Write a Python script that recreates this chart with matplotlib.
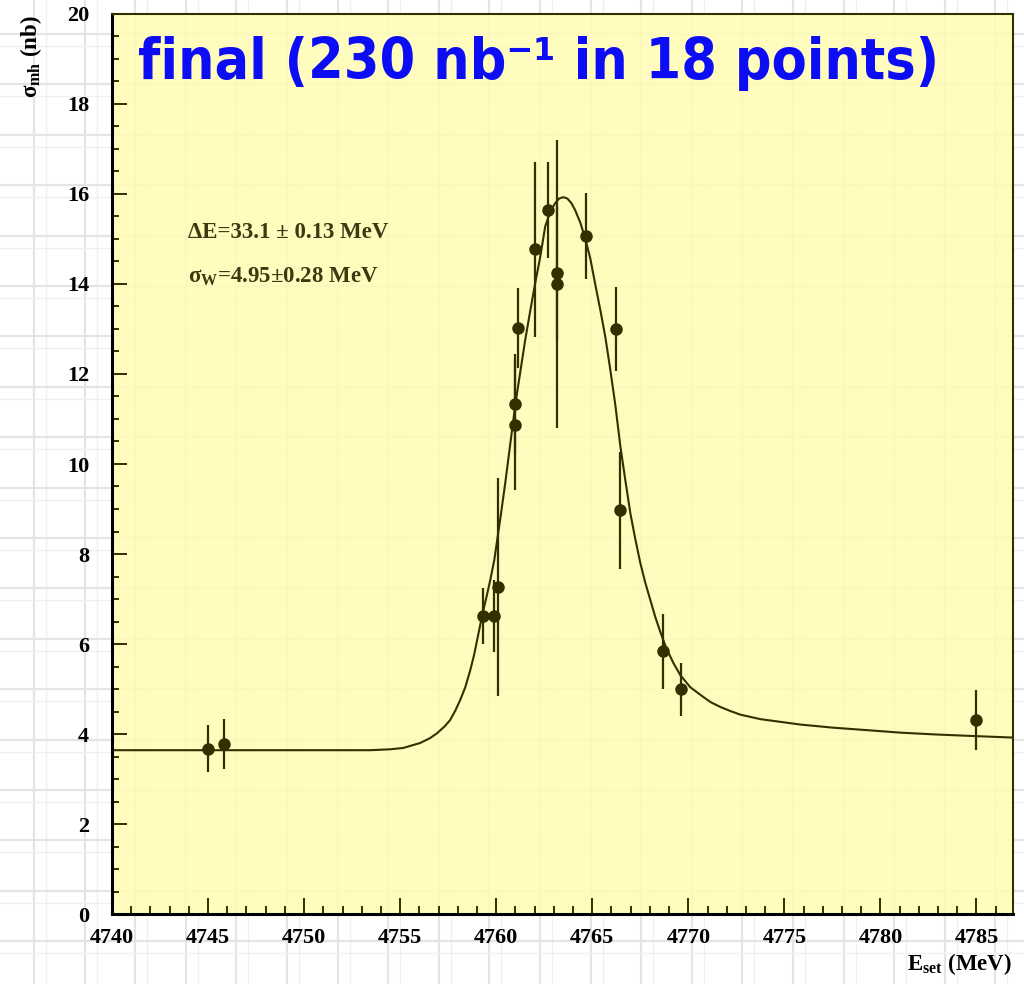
import matplotlib
matplotlib.use("Agg")
import matplotlib.pyplot as plt
from matplotlib.ticker import MultipleLocator
import numpy as np

plt.rcParams['font.family'] = ['Liberation Serif', 'DejaVu Serif']
plt.rcParams['font.weight'] = 'bold'
plt.rcParams['mathtext.fontset'] = 'custom'
plt.rcParams['mathtext.rm'] = 'Liberation Serif:bold'
plt.rcParams['mathtext.it'] = 'Liberation Serif:bold'
plt.rcParams['mathtext.bf'] = 'Liberation Serif:bold'

# measured points (MeV, nb)
energy = [4745.0, 4745.83, 4759.3, 4759.86, 4760.07, 4761.0, 4761.0, 4761.15,
          4762.03, 4762.67, 4763.16, 4763.16, 4764.67, 4766.25, 4766.46,
          4768.68, 4769.64, 4784.95]
sigma = [3.67, 3.78, 6.62, 6.63, 7.26, 11.33, 10.87, 13.02,
         14.77, 15.64, 14.24, 14.01, 15.07, 13.0, 8.97,
         5.84, 4.99, 4.31]
sigma_err = [0.52, 0.55, 0.62, 0.8, 2.42, 1.11, 1.45, 0.88,
             1.94, 1.07, 1.5, 3.2, 0.96, 0.93, 1.3,
             0.83, 0.58, 0.67]

# fitted curve
fit_energy = [4740.0, 4753.44, 4754.48, 4755.16, 4756.04, 4756.56, 4756.93,
              4757.34, 4757.60, 4757.86, 4758.13, 4758.39, 4758.65, 4758.85,
              4759.06, 4759.27, 4759.48, 4759.69, 4759.90, 4760.05, 4760.26,
              4760.47, 4760.73, 4760.99, 4761.25, 4761.51, 4761.77, 4762.03,
              4762.29, 4762.55, 4762.81, 4763.07, 4763.28, 4763.49, 4763.70,
              4763.91, 4764.11, 4764.38, 4764.64, 4764.90, 4765.16, 4765.42,
              4765.68, 4765.94, 4766.20, 4766.46, 4766.72, 4766.98, 4767.24,
              4767.50, 4767.76, 4768.02, 4768.28, 4768.54, 4768.85, 4769.22,
              4769.58, 4770.10, 4770.63, 4771.15, 4771.67, 4772.19, 4772.71,
              4773.75, 4774.79, 4775.83, 4777.55, 4779.48, 4781.04, 4782.86,
              4784.53, 4786.93]
fit_sigma = [3.64, 3.64, 3.66, 3.69, 3.80, 3.91, 4.02,
             4.18, 4.31, 4.51, 4.76, 5.04, 5.42, 5.76,
             6.20, 6.64, 7.02, 7.42, 7.87, 8.31, 8.93,
             9.58, 10.44, 11.31, 12.04, 12.76, 13.40, 14.02,
             14.60, 15.28, 15.60, 15.80, 15.90, 15.93, 15.90,
             15.80, 15.64, 15.36, 15.00, 14.56, 13.98, 13.42,
             12.82, 12.09, 11.31, 10.40, 9.64, 8.91, 8.33,
             7.80, 7.36, 6.98, 6.60, 6.27, 5.91, 5.58,
             5.31, 5.04, 4.87, 4.71, 4.60, 4.51, 4.43,
             4.33, 4.27, 4.21, 4.14, 4.08, 4.03, 3.99,
             3.96, 3.92]

ink = '#333000'
W, H = 1024, 984
fig = plt.figure(figsize=(W / 100, H / 100), dpi=100)

# slide background: faint graph paper
bg = fig.add_axes([0, 0, 1, 1], zorder=0)
bg.set_xlim(0, W)
bg.set_ylim(H, 0)
bg.axis('off')
for gx in np.arange(34, W, 50.6):
    bg.axvline(gx, color='#e4e4e4', lw=1.6)
    bg.axvline(gx + 12, color='#f0f0f0', lw=1.0)
for gy in np.arange(34, H, 50.4):
    bg.axhline(gy, color='#e4e4e4', lw=1.6)
    bg.axhline(gy + 12, color='#f0f0f0', lw=1.0)

ax = fig.add_axes([112 / W, 70 / H, 901 / W, 900 / H], zorder=1)
ax.set_facecolor((1.0, 0.99, 0.70, 0.85))

ax.plot(fit_energy, fit_sigma, color=ink, lw=1.5, zorder=2)
ax.errorbar(energy, sigma, yerr=sigma_err, fmt='o', color=ink, ms=8,
            elinewidth=1.6, capsize=0, zorder=3)

ax.set_xlim(4740, 4786.9)
ax.set_ylim(0, 20)
ax.xaxis.set_major_locator(MultipleLocator(5))
ax.xaxis.set_minor_locator(MultipleLocator(1))
ax.yaxis.set_major_locator(MultipleLocator(2))
ax.yaxis.set_minor_locator(MultipleLocator(0.5))
ax.tick_params(which='both', direction='in', top=False, right=False,
               width=1.4, color=ink, labelsize=16)
ax.tick_params(axis='x', which='major', length=11.5, pad=10)
ax.tick_params(axis='x', which='minor', length=5.5)
ax.tick_params(axis='y', which='major', length=11, pad=16.5)
ax.tick_params(axis='y', which='minor', length=5)
for s in ['left', 'bottom']:
    ax.spines[s].set_linewidth(2.2)
    ax.spines[s].set_color('black')
for s in ['top', 'right']:
    ax.spines[s].set_linewidth(1.5)
    ax.spines[s].set_color(ink)

ax.text(4741.35, 18.55, 'final (230 nb\u207b\u00b9 in 18 points)', color='#0d0df5',
        family='DejaVu Sans', fontweight='bold', fontstretch='condensed',
        fontsize=41, va='baseline', ha='left')

txt = '#3d3a12'
ax.text(4743.96, 15.02, '\u0394E=33.1 \u00b1 0.13 MeV', color=txt, fontsize=16.5,
        va='baseline')
ax.text(4743.96, 14.02, 'σ$_{\\mathrm{W}}$=4.95\u00b10.28 MeV', color=txt,
        fontsize=16.5, va='baseline')

ax.text(-0.09, 0.999, 'σ$_{\\mathrm{mh}}$ (nb)', transform=ax.transAxes,
        rotation=90, ha='center', va='top', fontsize=16.5)
ax.text(0.999, -0.0622, 'E$_{\\mathrm{set}}$ (MeV)', transform=ax.transAxes,
        ha='right', va='baseline', fontsize=16.5)

plt.savefig("out.png", dpi=100)
